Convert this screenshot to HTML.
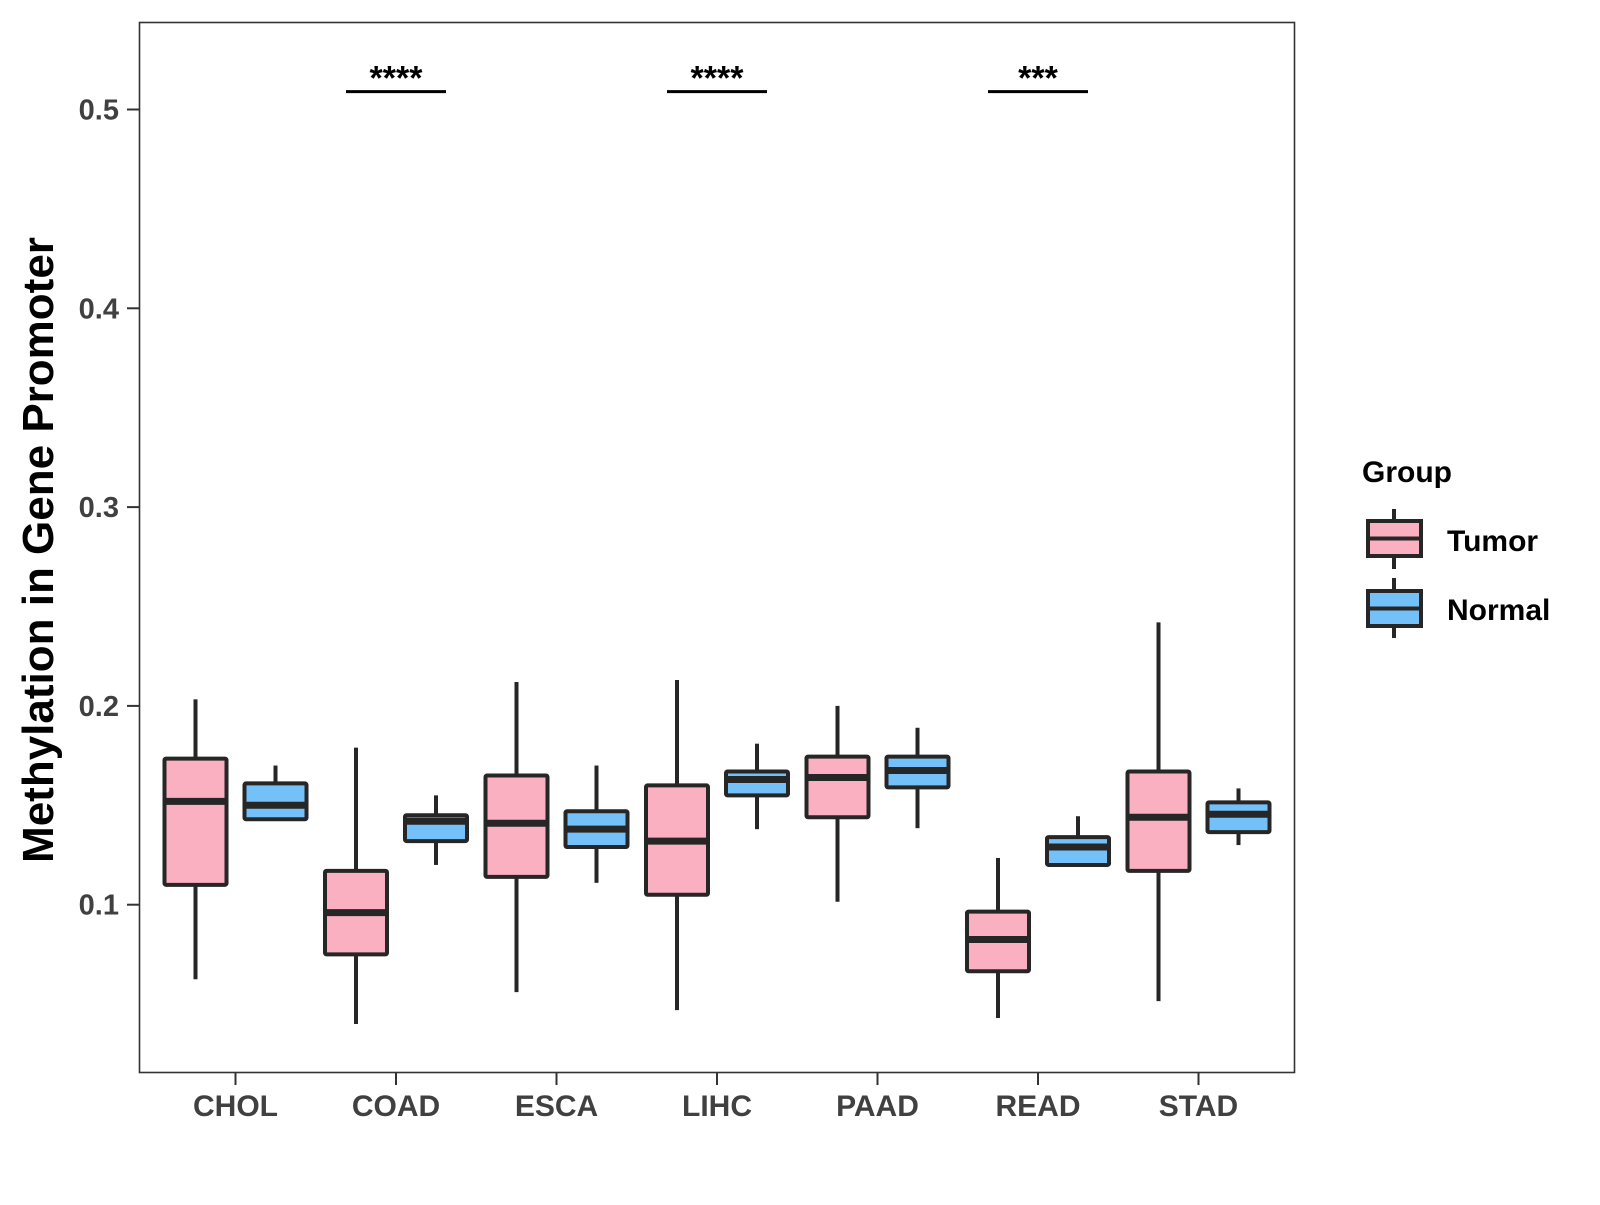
<!DOCTYPE html>
<html><head><meta charset="utf-8"><style>
html,body{margin:0;padding:0;background:#fff;}
svg text{font-family:"Liberation Sans",Arial,sans-serif;font-weight:bold;}
</style></head><body>
<svg id="chart" width="1600" height="1200" viewBox="0 0 1600 1200" xmlns="http://www.w3.org/2000/svg">
<rect x="0" y="0" width="1600" height="1200" fill="#fff"/>
<rect x="139.5" y="22.5" width="1155" height="1050" fill="none" stroke="#333" stroke-width="1.6"/>
<text transform="translate(53,550) rotate(-90)" text-anchor="middle" font-size="44" fill="#000">Methylation in Gene Promoter</text>
<g id="yaxis"></g>
<g id="xaxis"></g>
<g id="boxes"></g>
<g id="sig"></g>
<g>
<text x="1362" y="482" font-size="30" fill="#000">Group</text>
<g>
<line x1="1394" y1="509" x2="1394" y2="569" stroke="#262626" stroke-width="4"/>
<rect x="1368" y="521" width="53" height="35" fill="#fbb0c2" stroke="#262626" stroke-width="4"/>
<line x1="1368" y1="538.5" x2="1421" y2="538.5" stroke="#262626" stroke-width="4"/>
<text x="1447" y="551" font-size="30" fill="#000">Tumor</text>
</g>
<g>
<line x1="1394" y1="578" x2="1394" y2="638" stroke="#262626" stroke-width="4"/>
<rect x="1368" y="591" width="53" height="35" fill="#74c0f8" stroke="#262626" stroke-width="4"/>
<line x1="1368" y1="608.5" x2="1421" y2="608.5" stroke="#262626" stroke-width="4"/>
<text x="1447" y="620" font-size="30" fill="#000">Normal</text>
</g>
</g>
</svg>
<script>
const categories = ["CHOL","COAD","ESCA","LIHC","PAAD","READ","STAD"];
const tumorLow  = [0.0625,0.040,0.056,0.047,0.1015,0.043,0.0515];
const tumorQ1   = [0.110,0.075,0.114,0.105,0.144,0.0665,0.117];
const tumorMed  = [0.152,0.096,0.141,0.132,0.164,0.0825,0.144];
const tumorQ3   = [0.1735,0.117,0.165,0.160,0.1745,0.0965,0.167];
const tumorHigh = [0.2033,0.179,0.212,0.213,0.200,0.1235,0.242];
const normalLow  = [0.143,0.120,0.111,0.138,0.1385,0.120,0.130];
const normalQ1   = [0.143,0.132,0.129,0.155,0.159,0.120,0.1365];
const normalMed  = [0.150,0.142,0.138,0.163,0.1675,0.129,0.1455];
const normalQ3   = [0.161,0.145,0.147,0.167,0.1745,0.134,0.1515];
const normalHigh = [0.170,0.155,0.170,0.181,0.189,0.1445,0.1585];
const yTicks = [0.1,0.2,0.3,0.4,0.5];
const yTickLabels = ["0.1","0.2","0.3","0.4","0.5"];
const sigCats = ["COAD","LIHC","READ"];
const sigLabels = ["****","****","***"];
const sigLevel = [0.509,0.509,0.509];

const NS="http://www.w3.org/2000/svg";
function y(v){return 109.5+(0.5-v)*1988;}
function x(i){return 235.5+160.5*i;}
function mk(parent,tag,attrs){const e=document.createElementNS(NS,tag);for(const k in attrs)e.setAttribute(k,attrs[k]);parent.appendChild(e);return e;}
const ya=document.getElementById('yaxis'),xa=document.getElementById('xaxis'),bx=document.getElementById('boxes'),sg=document.getElementById('sig');
yTicks.forEach((v,i)=>{
  const t=mk(ya,'line',{x1:127,x2:139.5,y1:y(v),y2:y(v),stroke:'#333','stroke-width':2});
  
  
  const l=mk(ya,'text',{x:119,y:y(v)+10,'text-anchor':'end','font-size':29,fill:'#404040'});
  l.textContent=yTickLabels[i];
  
  
});
categories.forEach((c,i)=>{
  const t=mk(xa,'line',{x1:x(i),x2:x(i),y1:1073,y2:1085,stroke:'#333','stroke-width':2});
  
  
  const l=mk(xa,'text',{x:x(i),y:1116,'text-anchor':'middle','font-size':30,fill:'#404040'});
  l.textContent=c;
  
  
});
function box(cx,lo,q1,md,q3,hi,fill,name){
  const g=mk(bx,'g',{});
  
  
  const w=62;
  mk(g,'line',{x1:cx,x2:cx,y1:y(hi),y2:y(q3),stroke:'#262626','stroke-width':4});
  mk(g,'line',{x1:cx,x2:cx,y1:y(q1),y2:y(lo),stroke:'#262626','stroke-width':4});
  mk(g,'rect',{x:cx-w/2,y:y(q3),width:w,height:Math.max(0,y(q1)-y(q3)),fill:fill,stroke:'#262626','stroke-width':4,rx:1.5});
  mk(g,'line',{x1:cx-w/2,x2:cx+w/2,y1:y(md),y2:y(md),stroke:'#262626','stroke-width':7});
}
categories.forEach((c,i)=>{
  box(x(i)-40,tumorLow[i],tumorQ1[i],tumorMed[i],tumorQ3[i],tumorHigh[i],'#fbb0c2','box-tumor-'+c.toLowerCase());
  box(x(i)+40,normalLow[i],normalQ1[i],normalMed[i],normalQ3[i],normalHigh[i],'#74c0f8','box-normal-'+c.toLowerCase());
});
sigCats.forEach((c,k)=>{
  const i=categories.indexOf(c);
  const ln=mk(sg,'line',{x1:x(i)-50,x2:x(i)+50,y1:y(sigLevel[k]),y2:y(sigLevel[k]),stroke:'#000','stroke-width':3});
  
  
  const t=mk(sg,'text',{x:x(i),y:y(sigLevel[k])-2,'text-anchor':'middle','font-size':34,fill:'#000'});
  t.textContent=sigLabels[k];
  
  
});
</script>
</body></html>
